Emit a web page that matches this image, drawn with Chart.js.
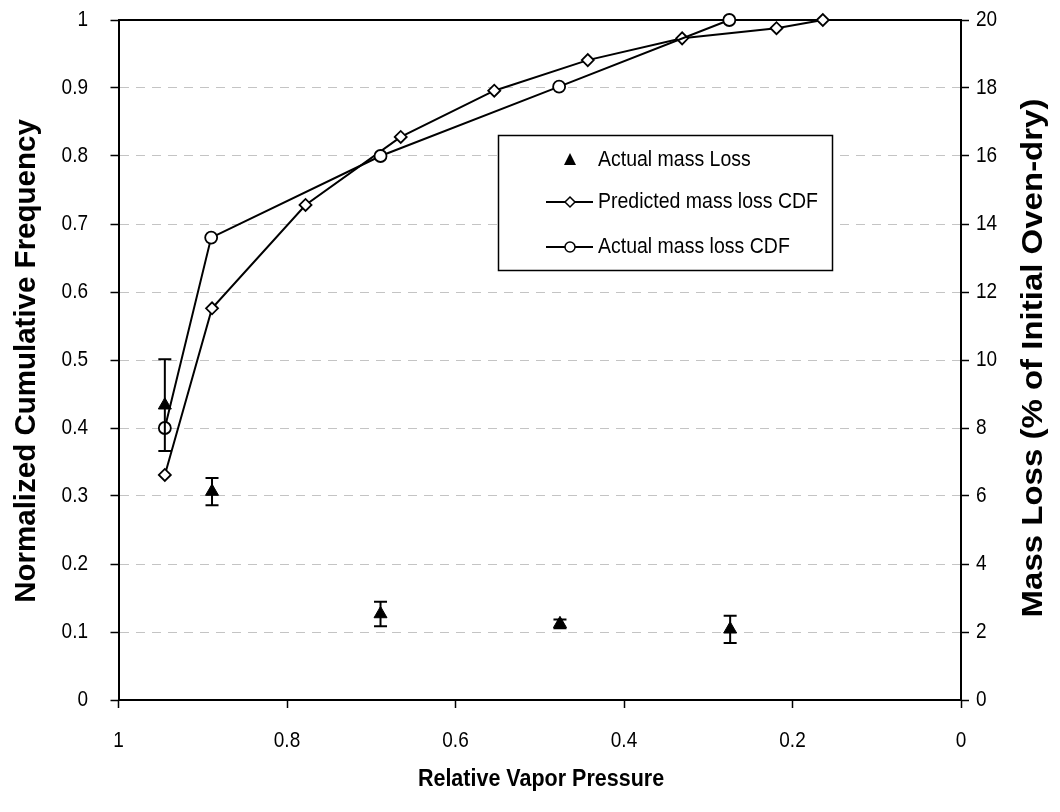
<!DOCTYPE html>
<html>
<head>
<meta charset="utf-8">
<title>Relative Vapor Pressure</title>
<script src="https://cdn.jsdelivr.net/npm/chart.js@4.4.1/dist/chart.umd.min.js"></script>
<style>
  html, body { margin: 0; padding: 0; background: #fff; }
  #wrap { width: 1060px; height: 812px; }
</style>
</head>
<body>
<div id="wrap"><canvas id="chart" width="1060" height="812"></canvas></div>
<script>
// Actual mass loss (% of initial oven-dry) with error bars, right axis
const massX = [0.945, 0.889, 0.689, 0.476, 0.274]
const massY = [8.67, 6.13, 2.53, 2.24, 2.08]
const massErr = [1.35, 0.4, 0.36, 0.13, 0.4]

// Predicted mass loss CDF, left axis
const predX = [0.945, 0.889, 0.778, 0.665, 0.554, 0.443, 0.331, 0.219, 0.164]
const predY = [0.331, 0.576, 0.728, 0.828, 0.896, 0.941, 0.973, 0.988, 1.0]

// Actual mass loss CDF, left axis
const cdfX = [0.945, 0.89, 0.689, 0.477, 0.275]
const cdfY = [0.4, 0.68, 0.8, 0.902, 1.0]

const seriesNames = ['Actual mass Loss', 'Predicted mass loss CDF', 'Actual mass loss CDF']
const xTitle = 'Relative Vapor Pressure'
const yTitle = 'Normalized Cumulative Frequency'
const y2Title = 'Mass Loss (% of Initial Oven-dry)'

const FONT = 'Arial, "Liberation Sans", sans-serif'
const toPoints = (xs, ys) => xs.map((x, i) => ({ x, y: ys[i] }))
const fmt = v => String(Math.round(v * 10) / 10)

// draw text, optionally stretched along the screen's vertical direction by k
function stretchedText(ctx, text, x, y, font, align, k, vertical) {
    ctx.save()
    ctx.translate(x, y)
    if (vertical) {
        ctx.rotate(-Math.PI / 2)
        ctx.scale(k, 1)
    } else {
        ctx.scale(1, k)
    }
    ctx.font = font
    ctx.textAlign = align
    ctx.textBaseline = 'middle'
    ctx.fillText(text, 0, 0)
    ctx.restore()
}

// Error bars for the mass loss series
const errorBars = {
    id: 'errorBars',
    afterDatasetsDraw(chart) {
        const meta = chart.getDatasetMeta(0)
        const yScale = chart.scales.y2
        const ctx = chart.ctx
        ctx.save()
        ctx.strokeStyle = '#000'
        ctx.lineWidth = 2
        meta.data.forEach((pt, i) => {
            const top = yScale.getPixelForValue(massY[i] + massErr[i])
            const bot = yScale.getPixelForValue(massY[i] - massErr[i])
            ctx.beginPath()
            ctx.moveTo(pt.x, top)
            ctx.lineTo(pt.x, bot)
            ctx.moveTo(pt.x - 6.5, top)
            ctx.lineTo(pt.x + 6.5, top)
            ctx.moveTo(pt.x - 6.5, bot)
            ctx.lineTo(pt.x + 6.5, bot)
            ctx.stroke()
        })
        ctx.restore()
    }
}

// Tick labels, axis titles and the boxed legend
const decorations = {
    id: 'decorations',
    afterDraw(chart) {
        const ctx = chart.ctx
        const { x, y, y2 } = chart.scales
        ctx.save()
        ctx.fillStyle = '#000'

        const tickFont = '19px ' + FONT
        const tk = 1.12
        y.ticks.forEach(t => stretchedText(ctx, fmt(t.value), 88, y.getPixelForValue(t.value), tickFont, 'right', tk))
        y2.ticks.forEach(t => stretchedText(ctx, fmt(t.value), 976, y2.getPixelForValue(t.value), tickFont, 'left', tk))
        x.ticks.forEach(t => stretchedText(ctx, fmt(t.value), x.getPixelForValue(t.value), 741, tickFont, 'center', tk))

        stretchedText(ctx, xTitle, 541, 779, 'bold 21.5px ' + FONT, 'center', 1.15)
        stretchedText(ctx, yTitle, 27, 361, 'bold 29.5px ' + FONT, 'center', 1.0, true)
        stretchedText(ctx, y2Title, 1034, 358, 'bold 30px ' + FONT, 'center', 1.1, true)

        // legend box
        const lx = 498.5, ly = 135.5, lw = 334, lh = 135
        ctx.fillStyle = '#fff'
        ctx.fillRect(lx, ly, lw, lh)
        ctx.strokeStyle = '#000'
        ctx.lineWidth = 1.5
        ctx.strokeRect(lx, ly, lw, lh)
        const rows = [160, 202, 247]
        const sym = 570
        ctx.fillStyle = '#000'
        ctx.beginPath()
        ctx.moveTo(sym, rows[0] - 7)
        ctx.lineTo(sym + 6, rows[0] + 5)
        ctx.lineTo(sym - 6, rows[0] + 5)
        ctx.closePath()
        ctx.fill()
        ctx.lineWidth = 2
        ;[rows[1], rows[2]].forEach(ry => {
            ctx.beginPath()
            ctx.moveTo(546, ry)
            ctx.lineTo(593, ry)
            ctx.stroke()
        })
        ctx.lineWidth = 1.5
        ctx.fillStyle = '#fff'
        ctx.beginPath()
        ctx.moveTo(sym, rows[1] - 5)
        ctx.lineTo(sym + 5, rows[1])
        ctx.lineTo(sym, rows[1] + 5)
        ctx.lineTo(sym - 5, rows[1])
        ctx.closePath()
        ctx.fill()
        ctx.stroke()
        ctx.beginPath()
        ctx.arc(sym, rows[2], 5, 0, Math.PI * 2)
        ctx.fill()
        ctx.stroke()
        ctx.fillStyle = '#000'
        seriesNames.forEach((name, i) => stretchedText(ctx, name, 598, rows[i], '19.5px ' + FONT, 'left', 1.1))
        ctx.restore()
    }
}

const ctx = document.getElementById('chart').getContext('2d')
new Chart(ctx, {
    type: 'scatter',
    data: {
        datasets: [
            {
                label: seriesNames[0],
                data: toPoints(massX, massY),
                yAxisID: 'y2',
                pointStyle: 'triangle',
                pointRadius: 7.5,
                backgroundColor: '#000',
                borderColor: '#000',
                borderWidth: 1,
                showLine: false,
                order: 0
            },
            {
                label: seriesNames[1],
                data: toPoints(predX, predY),
                yAxisID: 'y',
                showLine: true,
                borderColor: '#000',
                borderWidth: 2,
                pointStyle: 'rectRot',
                pointRadius: 6,
                pointBackgroundColor: '#fff',
                pointBorderColor: '#000',
                pointBorderWidth: 1.8,
                order: 2
            },
            {
                label: seriesNames[2],
                data: toPoints(cdfX, cdfY),
                yAxisID: 'y',
                showLine: true,
                borderColor: '#000',
                borderWidth: 2,
                pointStyle: 'circle',
                pointRadius: 6,
                pointBackgroundColor: '#fff',
                pointBorderColor: '#000',
                pointBorderWidth: 1.8,
                order: 1
            }
        ]
    },
    options: {
        responsive: false,
        animation: false,
        clip: false,
        layout: { padding: { top: 20, right: 0, bottom: 0, left: 0 } },
        plugins: {
            legend: { display: false },
            tooltip: { enabled: false }
        },
        scales: {
            x: {
                type: 'linear',
                reverse: true,
                min: 0,
                max: 1,
                ticks: { display: false, stepSize: 0.2 },
                grid: { drawOnChartArea: false, tickLength: 8, tickColor: '#000', tickWidth: 1.5 },
                border: { color: '#000', width: 2 },
                afterFit: s => { s.height = 112 }
            },
            xTop: {
                type: 'linear',
                position: 'top',
                min: 0,
                max: 1,
                ticks: { display: false },
                grid: { display: false },
                border: { color: '#000', width: 2 },
                afterFit: s => { s.height = 0 }
            },
            y: {
                position: 'left',
                min: 0,
                max: 1,
                ticks: { display: false, stepSize: 0.1 },
                grid: { color: '#c4c4c4', lineWidth: 1, tickLength: 8, tickColor: '#000', tickWidth: 1.5 },
                border: { color: '#000', width: 2, dash: [9, 7] },
                afterFit: s => { s.width = 118.5 }
            },
            y2: {
                position: 'right',
                min: 0,
                max: 20,
                ticks: { display: false, stepSize: 2 },
                grid: { drawOnChartArea: false, tickLength: 8, tickColor: '#000', tickWidth: 1.5 },
                border: { color: '#000', width: 2 },
                afterFit: s => { s.width = 99 }
            }
        }
    },
    plugins: [errorBars, decorations]
})
</script>
</body>
</html>
